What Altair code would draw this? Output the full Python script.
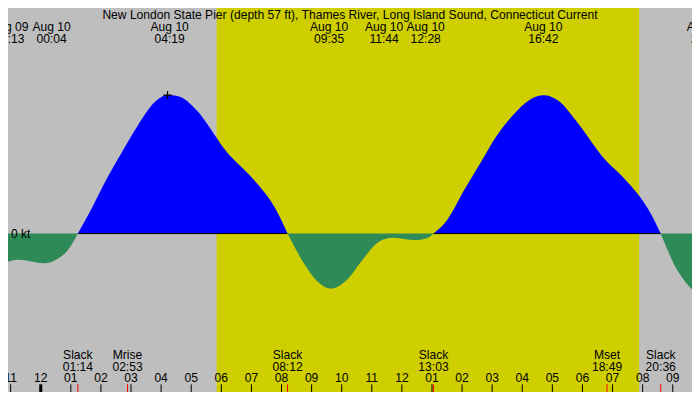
import altair as alt
import pandas as pd

# canvas: the reference is 700x400, the page keeps an 8px margin, so shrink a little
W, H = 684, 384
SX, SY = W / 700, H / 400

GRAY = "#BEBEBE"
YELLOW = "#CFCF00"
BLUE = "#0000FF"
GREEN = "#2E8B57"
FONT = "Liberation Sans"
FS = 12.6 * SY

TITLE = "New London State Pier (depth 57 ft), Thames River, Long Island Sound, Connecticut Current"

# current: hours after midnight Aug 10, knots (+ flood, - ebb)
hours = [-1.088, -0.763, -0.438, 0.104, 0.536, 0.916, 1.233, 1.727, 2.159, 2.701,
         3.240, 3.782, 4.214, 4.539, 5.188, 5.838, 6.055, 6.380, 6.705, 7.247,
         7.786, 8.2, 8.760, 9.195, 9.627, 10.169, 10.708, 11.250, 11.682, 12.442,
         12.873, 13.05, 13.523, 14.065, 14.604, 15.146, 15.688, 16.227, 16.714, 17.201,
         17.851, 18.718, 19.367, 19.909, 20.286, 20.6, 21.097, 21.640]
knots = [-0.305, -0.284, -0.295, -0.323, -0.278, -0.174, 0.0, 0.295, 0.573, 0.885,
         1.180, 1.424, 1.503, 1.493, 1.336, 1.042, 0.938, 0.816, 0.711, 0.521,
         0.278, 0.0, -0.330, -0.521, -0.597, -0.503, -0.278, -0.086, -0.045, -0.070,
         -0.045, 0.0, 0.156, 0.469, 0.764, 1.059, 1.284, 1.448, 1.5, 1.441,
         1.198, 0.816, 0.607, 0.399, 0.208, 0.0, -0.365, -0.607]

# sun (day shading)
sunrise, sunset = 5.844, 19.886

# extremes along the top
top_dates = ["Aug 09", "Aug 10", "Aug 10", "Aug 10", "Aug 10", "Aug 10", "Aug 10", "Aug 10"]
top_times = ["23:13", "00:04", "04:19", "09:35", "11:44", "12:28", "16:42", "22:06"]
top_dx = [-8, 9, -1, 0, -10, 10, 0, 0]  # labels pushed apart so they don't collide

# events along the bottom
bot_names = ["Slack", "Mrise", "Slack", "Slack", "Mset", "Slack"]
bot_times = ["01:14", "02:53", "08:12", "13:03", "18:49", "20:36"]

# hour ticks
tick_hours = list(range(-1, 22))
tick_labels = ["11", "12", "01", "02", "03", "04", "05", "06", "07", "08", "09", "10",
               "11", "12", "01", "02", "03", "04", "05", "06", "07", "08", "09"]

X_MIN, X_MAX = -1.088, 21.640
PX_PER_HOUR = W / (X_MAX - X_MIN)


def to_hours(t, date="Aug 10"):
    hh, mm = t.split(":")
    return int(hh) + int(mm) / 60 - (24 if date == "Aug 09" else 0)


# split the curve into flood / ebb pieces at the slack points
rows = []
seg = 0
for i, (h, v) in enumerate(zip(hours, knots)):
    rows.append(dict(h=h, v=v, seg=seg))
    if v == 0 and 0 < i < len(hours) - 1:
        seg += 1
        rows.append(dict(h=h, v=v, seg=seg))
curve = pd.DataFrame(rows)
curve["kind"] = curve.groupby("seg")["v"].transform(lambda s: "flood" if s.max() > 0 else "ebb")
curve["base"] = 0.0

slacks = [h for h, v in zip(hours, knots) if v == 0]
flood = pd.DataFrame({"start": slacks[0::2], "end": slacks[1::2], "v": 0.0})

first_peak = knots.index(max(knots[:20]))
peak = pd.DataFrame({"h": [hours[first_peak]], "v": [knots[first_peak]]})

top = pd.DataFrame({
    "date": top_dates,
    "time": top_times,
    "h": [to_hours(t, d) + dx * SX / PX_PER_HOUR
          for t, d, dx in zip(top_times, top_dates, top_dx)],
})
bot = pd.DataFrame({"name": bot_names, "time": bot_times,
                    "h": [to_hours(t) for t in bot_times]})
ticks = pd.DataFrame({"h": tick_hours, "label": tick_labels,
                      "w": [3 if h == 0 else 1 for h in tick_hours]})

xs = alt.Scale(domain=[X_MIN, X_MAX], nice=False, zero=False)
ys = alt.Scale(domain=[-1.719, 2.448], nice=False, zero=False)
X = alt.X("h:Q", scale=xs, axis=None)
Y = alt.Y("v:Q", scale=ys, axis=None)

day = alt.Chart(pd.DataFrame({"start": [sunrise], "end": [sunset]})).mark_rect(
    color=YELLOW
).encode(
    x=alt.X("start:Q", scale=xs, axis=None), x2="end:Q",
    y=alt.value(0), y2=alt.value(H)
)

area = alt.Chart(curve).mark_area(interpolate="monotone").encode(
    x=X,
    y=alt.Y("v:Q", scale=ys, axis=None, stack=False),
    y2="base:Q",
    color=alt.Color("kind:N", scale=alt.Scale(domain=["flood", "ebb"], range=[BLUE, GREEN]),
                    legend=None),
    detail="seg:N",
)

zero_line = alt.Chart(flood).mark_rule(color="black", strokeWidth=1).encode(
    x=alt.X("start:Q", scale=xs, axis=None), x2="end:Q", y=Y
)

plus = alt.Chart(peak).mark_point(
    shape="M-1,0H1M0,-1V1", size=70, filled=False, color="black", strokeWidth=1.2, opacity=1
).encode(x=X, y=Y)

txt = dict(font=FONT, fontSize=FS, color="black", align="center", baseline="alphabetic")

title = alt.Chart(pd.DataFrame({"t": [TITLE]})).mark_text(**txt).encode(
    x=alt.value(W / 2), y=alt.value(11 * SY), text="t:N"
)

top_date = alt.Chart(top).mark_text(**txt).encode(x=X, y=alt.value(24 * SY), text="date:N")
top_time = alt.Chart(top).mark_text(**txt).encode(x=X, y=alt.value(36.5 * SY), text="time:N")

bot_name = alt.Chart(bot).mark_text(**txt).encode(x=X, y=alt.value(366 * SY), text="name:N")
bot_time = alt.Chart(bot).mark_text(**txt).encode(x=X, y=alt.value(378 * SY), text="time:N")

event_ticks = alt.Chart(bot).mark_rule(color="#FF0000", strokeWidth=1).encode(
    x=X, y=alt.value(392 * SY), y2=alt.value(H)
)

hour_ticks = alt.Chart(ticks).mark_rule(color="black").encode(
    x=X, y=alt.value(392 * SY), y2=alt.value(H),
    strokeWidth=alt.StrokeWidth("w:Q", scale=None),
)
hour_labels = alt.Chart(ticks).mark_text(**txt).encode(
    x=X, y=alt.value(390 * SY), text="label:N"
)

zero_label = alt.Chart(pd.DataFrame({"t": ["0 kt"], "v": [0.0]})).mark_text(
    font=FONT, fontSize=FS, color="black", align="left", baseline="middle"
).encode(x=alt.value(3 * SX), y=Y, text="t:N")

chart = alt.layer(
    day, area, zero_line, plus, event_ticks, hour_ticks, hour_labels,
    bot_name, bot_time, top_date, top_time, title, zero_label
).properties(
    width=W, height=H, padding=0,
    autosize=alt.AutoSizeParams(type="none"),
    background=GRAY,
).configure_view(stroke=None, fill=GRAY)

chart.save("out.html", embed_options={"renderer": "svg", "actions": False})
